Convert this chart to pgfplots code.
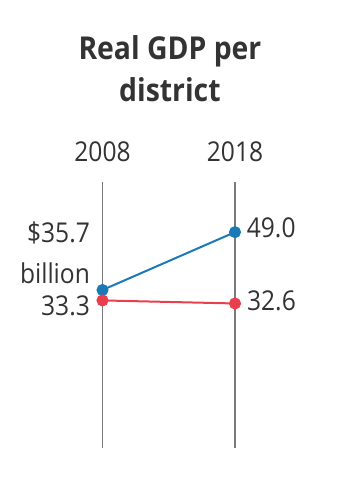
\documentclass[border=0pt]{standalone}
\usepackage{pgfplots}
\pgfplotsset{compat=1.18}
\usepackage{fontspec}
\setmainfont{Open Sans}[FakeStretch=0.9]
\definecolor{txt}{HTML}{333333}
\definecolor{vline}{HTML}{7A7A7A}
\definecolor{cblue}{HTML}{1A7AB5}
\definecolor{cred}{HTML}{E83E4D}
\begin{document}
\begin{tikzpicture}
\begin{axis}[
  width=351bp, height=492bp, scale only axis,
  xmin=2000.264, xmax=2026.755,
  ymin=-10.74, ymax=102.37,
  hide axis, clip=false,
]
\coordinate (SW) at (rel axis cs:0,0);
\coordinate (NE) at (rel axis cs:1,1);
% vertical guide lines
\addplot[vline, line width=1.8bp] coordinates {(2008,-0.6) (2008,60.5)};
\addplot[vline, line width=1.8bp] coordinates {(2018,-0.6) (2018,60.5)};
% data
\addplot[cblue, line width=2bp, mark=*, mark size=5bp, mark options={fill=cblue, draw=cblue}] coordinates {(2008,35.7) (2018,49.0)};
\addplot[cred, line width=2bp, mark=*, mark size=5bp, mark options={fill=cred, draw=cred}] coordinates {(2008,33.3) (2018,32.6)};
% labels
\tikzset{lbl/.style={text=txt, inner sep=0pt, font=\fontsize{27.3bp}{32bp}\selectfont}}
\node[lbl, anchor=base] at (axis cs:2008,65.2) {2008};
\node[lbl, anchor=base] at (axis cs:2018,65.2) {2018};
\node[lbl, anchor=base east] at (axis cs:2007.06,46.67) {\$35.7};
\node[lbl, anchor=base east] at (axis cs:2007.06,37.08) {billion};
\node[lbl, anchor=base east] at (axis cs:2007.06,29.95) {33.3};
\node[lbl, anchor=base west] at (axis cs:2018.88,47.66) {49.0};
\node[lbl, anchor=base west] at (axis cs:2018.9,31.1) {32.6};
\tikzset{ttl/.style={text=txt, inner sep=0pt, font=\fontsize{31.5bp}{36bp}\selectfont\bfseries}}
\node[ttl, anchor=base] at (axis cs:2013.09,88.73) {Real GDP per};
\node[ttl, anchor=base] at (axis cs:2013.09,78.97) {district};
\end{axis}
\pgfresetboundingbox
\path[use as bounding box] (SW) rectangle (NE);
\end{tikzpicture}
\end{document}
